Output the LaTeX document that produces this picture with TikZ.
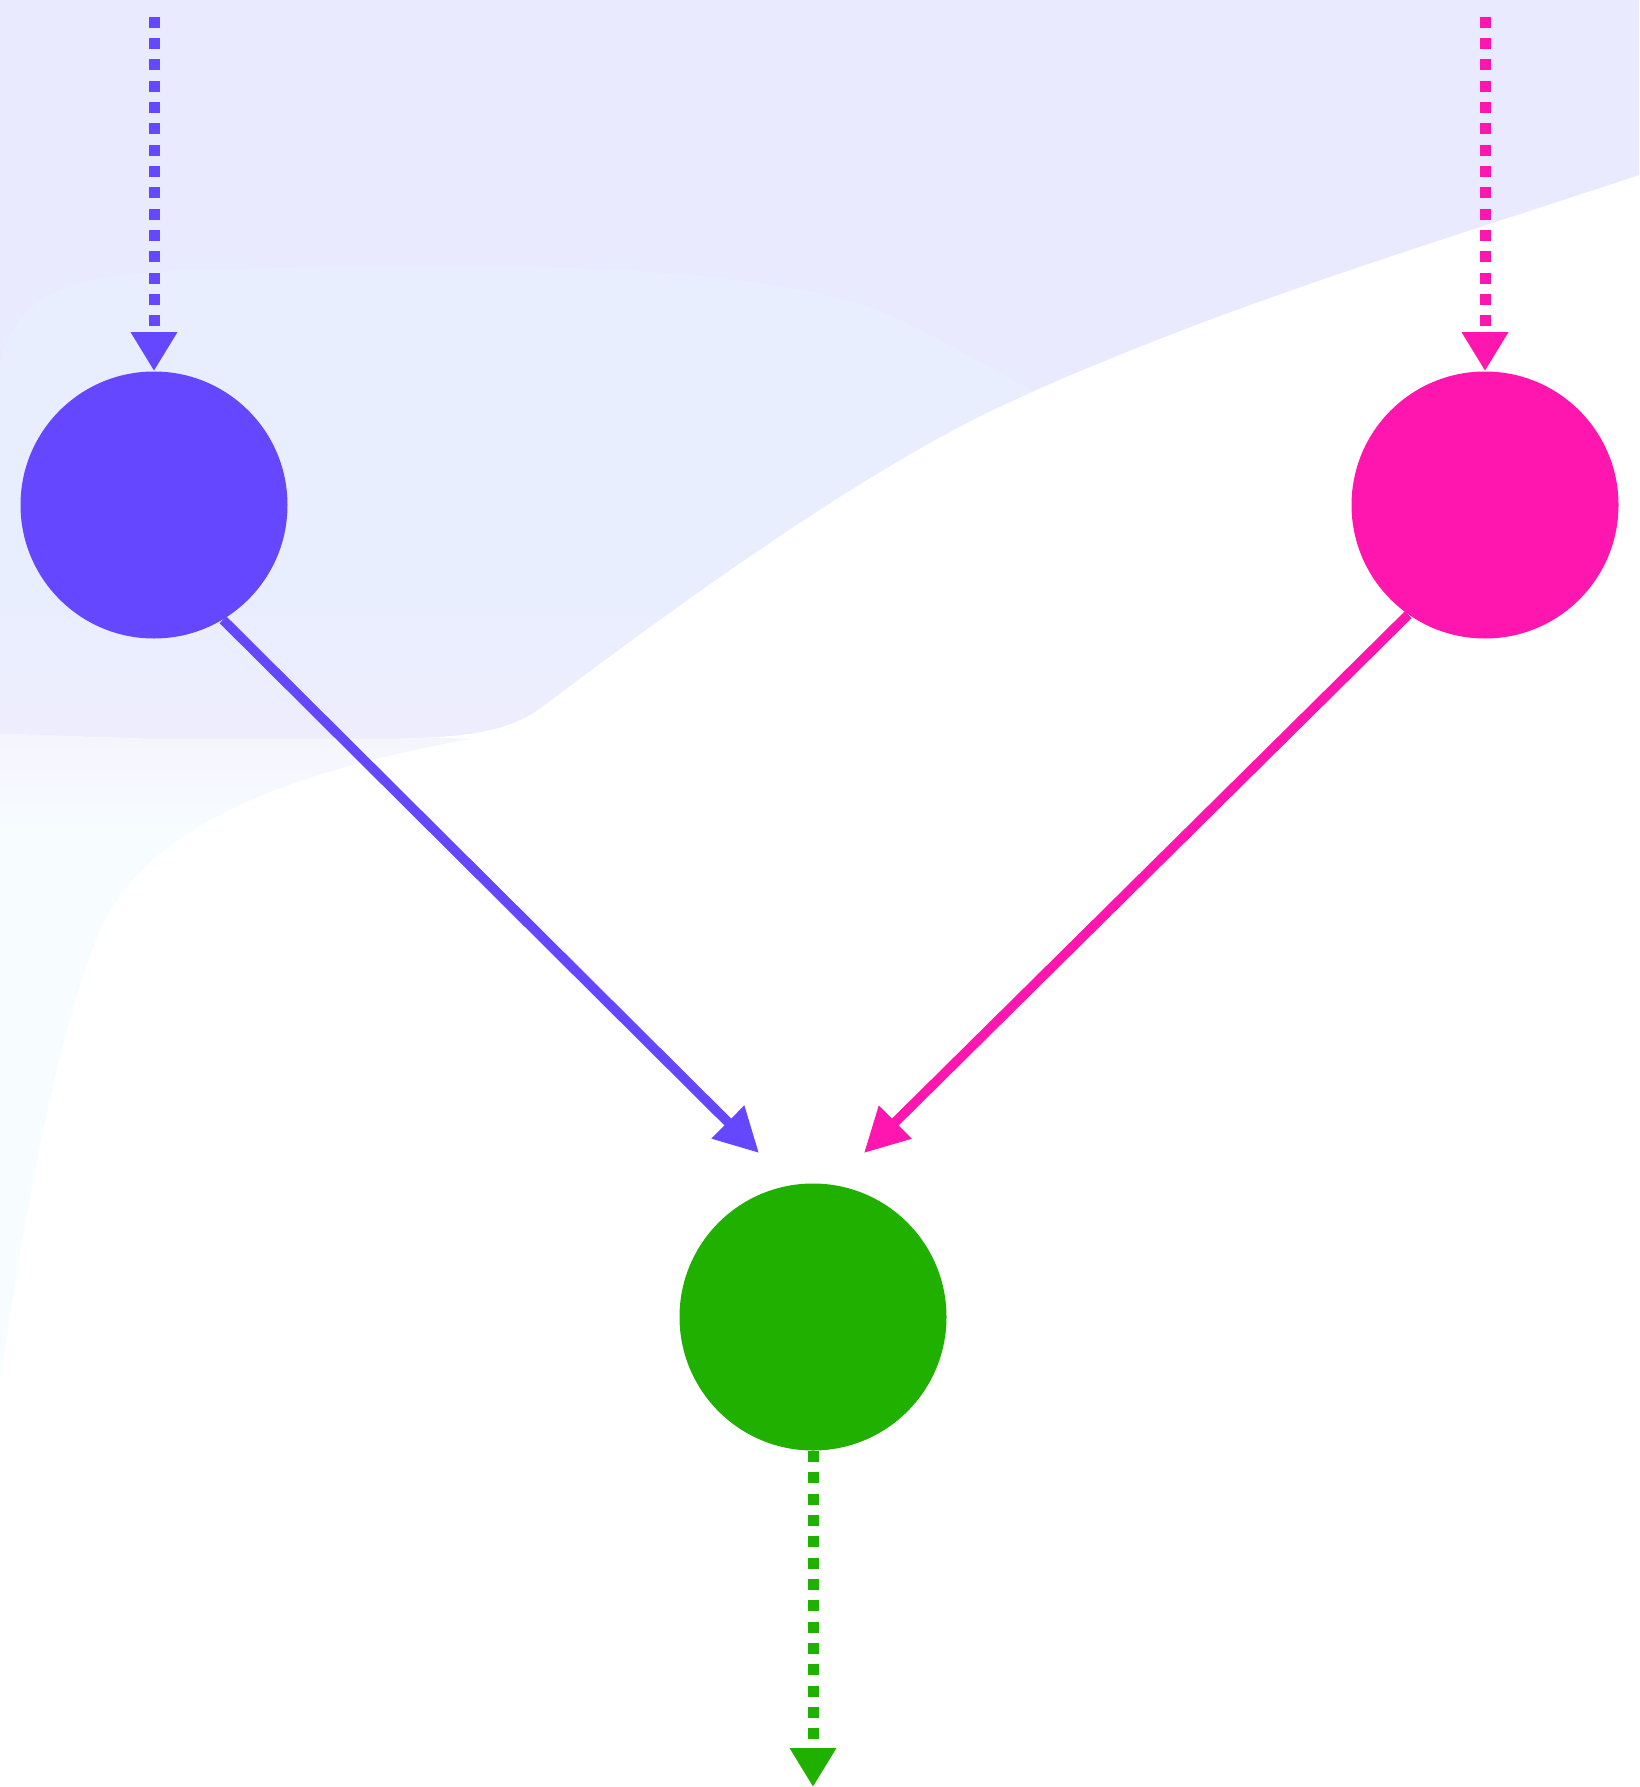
\documentclass[tikz,border=0pt]{standalone}
\usetikzlibrary{arrows.meta}
\definecolor{cblue}{HTML}{6547FF}
\definecolor{cpink}{HTML}{FF16AF}
\definecolor{cgreen}{HTML}{20B000}
\definecolor{bgmain}{HTML}{EAEAFE}
\definecolor{bginner}{HTML}{E9EEFE}
\definecolor{bgpink}{HTML}{EEEDFD}
\definecolor{bgcyan}{HTML}{F7FCFF}
\definecolor{bgband}{HTML}{F5F4FE}
\tikzset{
  dot/.style={circle, inner sep=0pt, minimum size=133.5pt},
  dotted edge/.style={line width=5.5pt, line cap=butt, dash pattern=on 5.5pt off 5.17pt,
    -{Triangle[length=19.5pt,width=22pt]}},
  solid edge/.style={line width=4.8pt, -{Triangle[length=22pt,width=22pt]}}
}
\newcommand{\mainpath}{(0,0) -- (1639,0) -- (1639,175)
  .. controls (1429,245) and (1224,305) .. (1014,400)
  .. controls (864,467) and (660,618) .. (540,708)
  .. controls (510,730) and (470,737) .. (400,738) -- (140,738) -- (0,733) -- cycle}
\begin{document}
\begin{tikzpicture}[x=0.5pt,y=-0.5pt]
\useasboundingbox (0,0) rectangle (1639,1787);
\fill[white] (0,0) rectangle (1639,1787);
% faint cyan region lower left
\begin{scope}
\clip (0,730) -- (420,730) -- (420,737) .. controls (440,738) and (455,738) .. (470,739)
  .. controls (300,770) and (150,820) .. (100,930)
  .. controls (50,1050) and (20,1250) .. (0,1380) -- cycle;
\shade[top color=bgband, bottom color=bgcyan] (0,730) rectangle (600,830);
\fill[bgcyan] (0,829) rectangle (600,1400);
\end{scope}
% main lavender region
\fill[bgmain] \mainpath;
\begin{scope}
\clip \mainpath;
\fill[bginner] (0,360) .. controls (20,300) and (50,275) .. (200,270)
  .. controls (500,262) and (780,262) .. (900,320)
  .. controls (960,350) and (1050,400) .. (1100,430) -- (1100,800) -- (0,800) -- cycle;
\shade[top color=bginner, bottom color=bgpink] (0,600) rectangle (1100,745);
\end{scope}
% nodes
\node[dot, fill=cblue] (a) at (154,505) {};
\node[dot, fill=cpink] (b) at (1485,505) {};
\node[dot, fill=cgreen] (c) at (813,1317) {};
\coordinate (atop) at (154,16.7);
\coordinate (btop) at (1485,16.7);
\coordinate (cend) at (813,1787);
\coordinate (atip) at (759,1153);
\coordinate (btip) at (864,1153);
% edges
\draw[dotted edge, cblue] (atop) -- (a.north);
\draw[dotted edge, cpink] (btop) -- (b.north);
\draw[dotted edge, cgreen] (c.south) -- (cend);
\draw[solid edge, cblue] (a.-59) -- (atip);
\draw[solid edge, cpink] (b.-125) -- (btip);
\end{tikzpicture}
\end{document}
